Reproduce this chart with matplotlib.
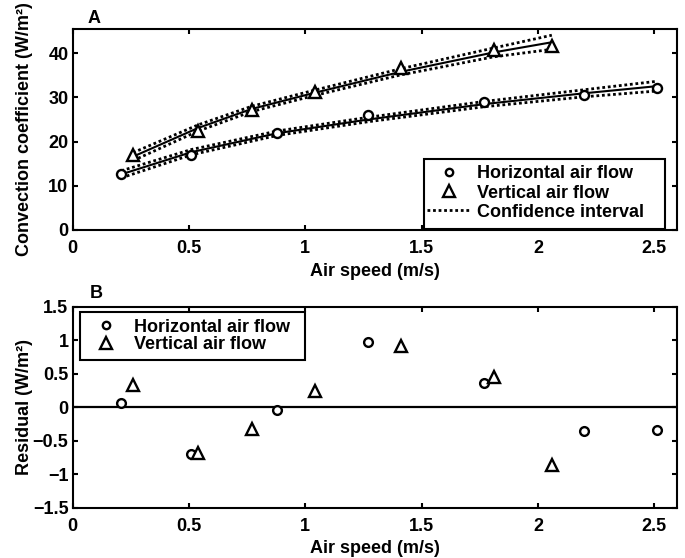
import numpy as np
import matplotlib
matplotlib.use('Agg')
import matplotlib.pyplot as plt
from matplotlib.lines import Line2D
from matplotlib.patches import Rectangle

plt.rcParams['font.family'] = ['Liberation Sans', 'DejaVu Sans']
plt.rcParams['font.weight'] = 'bold'
plt.rcParams['font.size'] = 13

# horizontal air flow
speed_h = [0.21, 0.51, 0.88, 1.27, 1.77, 2.20, 2.51]
coef_h = [12.7, 16.9, 21.85, 26.0, 28.9, 30.6, 32.2]
fit_h = [12.6, 17.6, 21.9, 25.0, 28.5, 30.95, 32.55]
ci_h = [0.8, 0.6, 0.5, 0.5, 0.6, 0.8, 1.1]
resid_h = [0.06, -0.69, -0.04, 0.98, 0.36, -0.35, -0.34]

# vertical air flow
speed_v = [0.26, 0.54, 0.77, 1.04, 1.41, 1.81, 2.06]
coef_v = [16.95, 22.4, 27.1, 31.3, 36.7, 40.7, 41.6]
fit_v = [16.6, 23.1, 27.4, 31.05, 35.8, 40.2, 42.5]
ci_v = [0.9, 0.7, 0.6, 0.6, 0.7, 1.0, 1.6]
resid_v = [0.33, -0.68, -0.33, 0.25, 0.92, 0.46, -0.86]

base = dict(mfc='white', mec='black', mew=1.7, ls='none')
dot = (0, (1.0, 1.0))
FS = 13
xt = [0, 0.5, 1, 1.5, 2, 2.5]
xtl = ['0', '0.5', '1', '1.5', '2', '2.5']


def style(ax):
    ax.tick_params(direction='in', top=True, right=True, length=3.6, width=1.5,
                   labelsize=FS)
    ax.tick_params(axis='x', pad=7)
    ax.tick_params(axis='y', pad=3)
    for s in ax.spines.values():
        s.set_linewidth(1.5)
    for lb in ax.get_xticklabels() + ax.get_yticklabels():
        lb.set_fontweight('bold')
    ax.yaxis.set_label_coords(-0.066, 0.5)


def legend(ax, handles, labels, box, anchor, spacing):
    # frameless legend inside a hand-placed box
    ax.add_patch(Rectangle(box[:2], box[2], box[3], transform=ax.transAxes,
                           fc='white', ec='black', lw=1.5, zorder=4))
    leg = ax.legend(handles, labels, frameon=False, fontsize=FS,
                    handlelength=2.4, borderpad=0, labelspacing=spacing,
                    handletextpad=0.35, borderaxespad=0, loc='center left',
                    bbox_to_anchor=anchor)
    leg.set_zorder(5)
    return leg


fig = plt.figure(figsize=(6.85, 5.58), dpi=100)
ax1 = fig.add_axes([0.106, 0.588, 0.883, 0.360])
ax2 = fig.add_axes([0.106, 0.090, 0.883, 0.360])

# panel A: fits with confidence bands, then the measurements
for x, f, c in [(speed_h, fit_h, ci_h), (speed_v, fit_v, ci_v)]:
    x = np.array(x); f = np.array(f); c = np.array(c)
    ax1.plot(x, f, color='black', lw=1.5, zorder=2)
    ax1.plot(x, f + c, color='black', lw=2.0, ls=dot, zorder=2)
    ax1.plot(x, f - c, color='black', lw=2.0, ls=dot, zorder=2)
ax1.plot(speed_h, coef_h, marker='o', ms=6.5, zorder=3, **base)
ax1.plot(speed_v, coef_v, marker='^', ms=8.5, zorder=3, **base)

ax1.set_xlim(0, 2.6)
ax1.set_ylim(0, 45.5)
ax1.set_xticks(xt)
ax1.set_xticklabels(xtl)
ax1.set_yticks([0, 10, 20, 30, 40])
ax1.set_xlabel('Air speed (m/s)', fontsize=FS, fontweight='bold', labelpad=4.5)
ax1.set_ylabel('Convection coefficient (W/m²)', fontsize=FS, fontweight='bold')
style(ax1)
ax1.text(0.09, 47.8, 'A', fontsize=FS, fontweight='bold', ha='center', va='center')

h1 = [Line2D([], [], marker='o', ms=5.3, **base),
      Line2D([], [], marker='^', ms=8, **base),
      Line2D([], [], color='black', lw=2.0, ls=dot)]
legend(ax1, h1, ['Horizontal air flow', 'Vertical air flow', 'Confidence interval'],
       box=(0.581, 0.005, 0.398, 0.349), anchor=(0.586, 0.183), spacing=0.12)

# panel B: residuals
ax2.axhline(0, color='black', lw=1.6, zorder=1)
ax2.plot(speed_h, resid_h, marker='o', ms=6.3, zorder=3, **base)
ax2.plot(speed_v, resid_v, marker='^', ms=8.5, zorder=3, **base)
ax2.set_xlim(0, 2.6)
ax2.set_ylim(-1.5, 1.5)
ax2.set_xticks(xt)
ax2.set_xticklabels(xtl)
ax2.set_yticks([-1.5, -1, -0.5, 0, 0.5, 1, 1.5])
ax2.set_yticklabels(['\u22121.5', '\u22121', '\u22120.5', '0', '0.5', '1', '1.5'])
ax2.set_xlabel('Air speed (m/s)', fontsize=FS, fontweight='bold', labelpad=4)
ax2.set_ylabel('Residual (W/m²)', fontsize=FS, fontweight='bold')
style(ax2)
ax2.text(0.1, 1.70, 'B', fontsize=FS, fontweight='bold', ha='center', va='center')

h2 = [Line2D([], [], marker='o', ms=5.3, **base),
      Line2D([], [], marker='^', ms=8, **base)]
legend(ax2, h2, ['Horizontal air flow', 'Vertical air flow'],
       box=(0.012, 0.735, 0.372, 0.240), anchor=(0.0195, 0.855), spacing=0.03)

fig.savefig('out.png', dpi=100)
